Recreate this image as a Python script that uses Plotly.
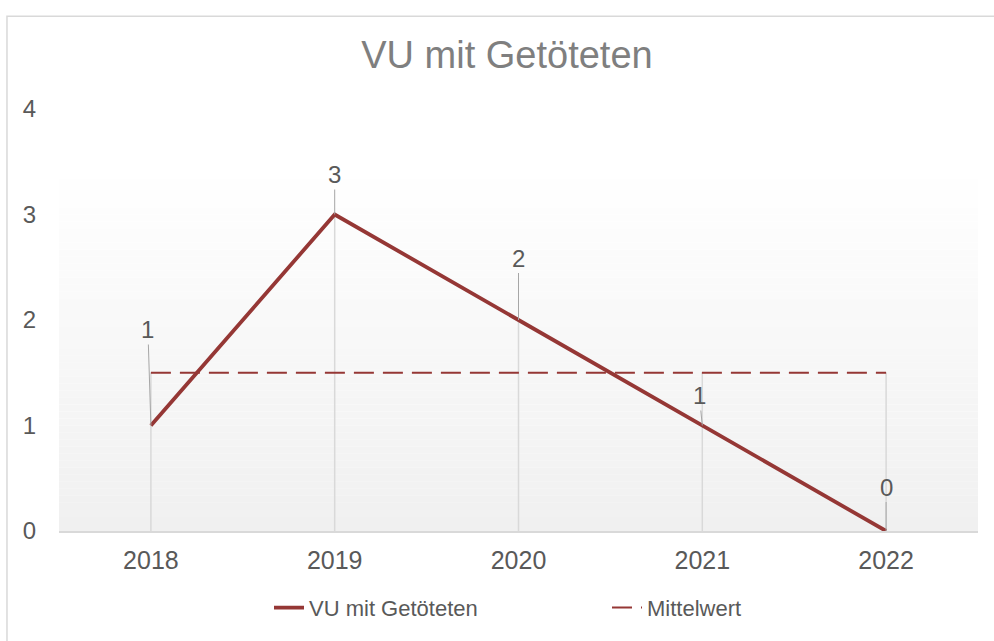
import plotly.graph_objects as go

years = ["2018", "2019", "2020", "2021", "2022"]
vu_values = [1, 3, 2, 1, 0]
mean_values = [1.5, 1.5, 1.5, 1.5, 1.5]
y_ticks = [0, 1, 2, 3, 4]

# label offsets (pixels, style only)
label_dx = [-3, 0, 0, -3, 0]
label_dy = [-96, -40, -62, -30, -44]

RED = "#953735"
GREY_TXT = "#595959"
FONT = "Liberation Sans, Arial, sans-serif"

fig = go.Figure()

# drop lines from axis up to the highest series value at each category
dx, dy = [], []
for i, yr in enumerate(years):
    top = max(vu_values[i], mean_values[i])
    dx += [yr, yr, None]
    dy += [0, top, None]
fig.add_trace(go.Scatter(x=dx, y=dy, mode="lines", line=dict(color="#d9d9d9", width=1.5),
                         showlegend=False, hoverinfo="skip"))

fig.add_trace(go.Scatter(x=years, y=vu_values, mode="lines", name="VU mit Getöteten",
                         line=dict(color=RED, width=3.8)))
fig.add_trace(go.Scatter(x=years, y=mean_values, mode="lines", name="Mittelwert",
                         line=dict(color=RED, width=2, dash="20px,9px")))

for i, yr in enumerate(years):
    fig.add_annotation(x=i, y=vu_values[i], text=str(vu_values[i]), showarrow=True,
                       arrowhead=0, arrowwidth=1, arrowcolor="#a6a6a6",
                       ax=label_dx[i], ay=label_dy[i], standoff=0,
                       font=dict(size=24, color=GREY_TXT, family=FONT))

# gradient plot background (bands)
n = 60
for k in range(n):
    t0 = k / n
    t1 = (k + 1) / n
    t = (t0 + t1) / 2
    v = min(255, int(round(240 + 15 * t / 0.86)))
    fig.add_shape(type="rect", xref="paper", yref="paper", x0=0, x1=1, y0=t0, y1=t1,
                  fillcolor=f"rgb({v},{v},{v})", line=dict(width=0), layer="below")

# chart border
fig.add_shape(type="rect", xref="paper", yref="paper", x0=-0.0566, x1=1.2, y0=-0.6,
              y1=(535 - 13) / 428,
              line=dict(color="#d9d9d9", width=1.5), fillcolor="rgba(0,0,0,0)", layer="below")

fig.update_layout(
    width=994, height=641,
    margin=dict(l=59, r=16, t=109, b=104),
    paper_bgcolor="white", plot_bgcolor="rgba(0,0,0,0)",
    font=dict(family=FONT, color=GREY_TXT, size=24),
    title=dict(text="VU mit Getöteten", x=0.51, xref="container", xanchor="center",
               y=1 - 55 / 641, yref="container", yanchor="middle",
               font=dict(size=38, color="#7f7f7f", family=FONT)),
    xaxis=dict(type="category", range=[-0.5, 4.5], showgrid=False, zeroline=False,
               showline=True, linecolor="#d9d9d9", linewidth=1.5, ticks="",
               ticklabelstandoff=6, tickfont=dict(size=25, color=GREY_TXT)),
    yaxis=dict(range=[0, 4], tickvals=y_ticks, showgrid=False, zeroline=False,
               showline=False, ticks="", ticklabelstandoff=22,
               tickfont=dict(size=24, color=GREY_TXT)),
    legend=dict(orientation="h", x=(269 - 59) / 919, xanchor="left", y=-0.182, yanchor="middle",
                entrywidth=293, entrywidthmode="pixels",
                font=dict(size=22, color=GREY_TXT, family=FONT), bgcolor="rgba(0,0,0,0)"),
    showlegend=True,
)

fig.write_html("out.html", config={"displayModeBar": False},
               post_script="document.body.style.margin='0';document.body.style.padding='0';")
